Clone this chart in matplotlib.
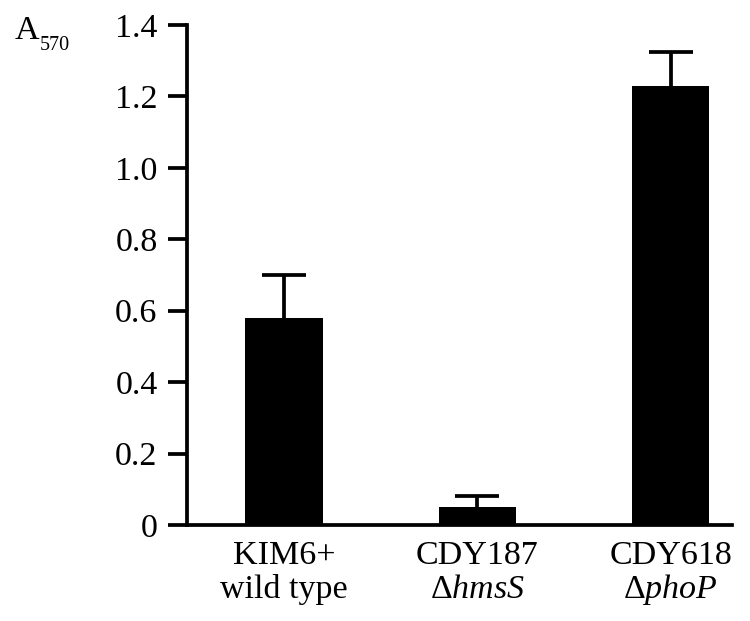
import matplotlib
matplotlib.use("Agg")
import matplotlib.pyplot as plt
import matplotlib.transforms as mtransforms

plt.rcParams['font.family'] = ['Liberation Serif', 'DejaVu Serif']
plt.rcParams['mathtext.fontset'] = 'custom'
plt.rcParams['mathtext.rm'] = 'Liberation Serif'
plt.rcParams['mathtext.it'] = 'Liberation Serif:italic'

# Data
strains = ["KIM6+", "CDY187", "CDY618"]
genotypes = ["wild type", r"Δ$\mathit{hmsS}$", r"Δ$\mathit{phoP}$"]
values = [0.58, 0.05, 1.23]
errors = [0.12, 0.03, 0.095]
yticks = [0, 0.2, 0.4, 0.6, 0.8, 1.0, 1.2, 1.4]
ytick_labels = ["0", "0.2", "0.4", "0.6", "0.8", "1.0", "1.2", "1.4"]

fig = plt.figure(figsize=(7.5, 6.21), dpi=100)
ax = fig.add_axes([0.249, 0.1546, 0.7266, 0.8051])

x = list(range(len(strains)))
ax.bar(x, values, width=0.4, color='black', edgecolor='black', linewidth=0, zorder=3)
eb = ax.errorbar(x, values, yerr=[[0] * len(errors), errors], fmt='none',
                 ecolor='black', elinewidth=2.7, capsize=15.8, capthick=2.7, zorder=2)
# only upper caps are shown in the reference
caplines = eb[1]
if len(caplines) == 2:
    caplines[0].set_visible(False)

ax.set_xlim(-0.503, 2.315)
ax.set_ylim(0, 1.4)
ax.set_yticks(yticks)
ax.set_yticklabels(ytick_labels)
ax.set_xticks(x)
ax.set_xticklabels([])

for s in ['top', 'right']:
    ax.spines[s].set_visible(False)
for s in ['left', 'bottom']:
    ax.spines[s].set_linewidth(2.7)
ax.tick_params(axis='y', length=14, width=2.7, pad=7, labelsize=24.5, direction='out')
ax.tick_params(axis='x', length=0)

trans = mtransforms.blended_transform_factory(ax.transData, ax.transAxes)
for xi, s, g in zip(x, strains, genotypes):
    ax.text(xi, -0.078, s, transform=trans, ha='center', va='baseline', fontsize=24.5)
    ax.text(xi, -0.146, g, transform=trans, ha='center', va='baseline', fontsize=24.5)

fig.text(15 / 750, 1 - 39 / 621, "A", fontsize=24.5, ha='left', va='baseline')
fig.text(40 / 750, 1 - 50 / 621, "570", fontsize=14.5, ha='left', va='baseline')

fig.savefig("out.png", dpi=100)
